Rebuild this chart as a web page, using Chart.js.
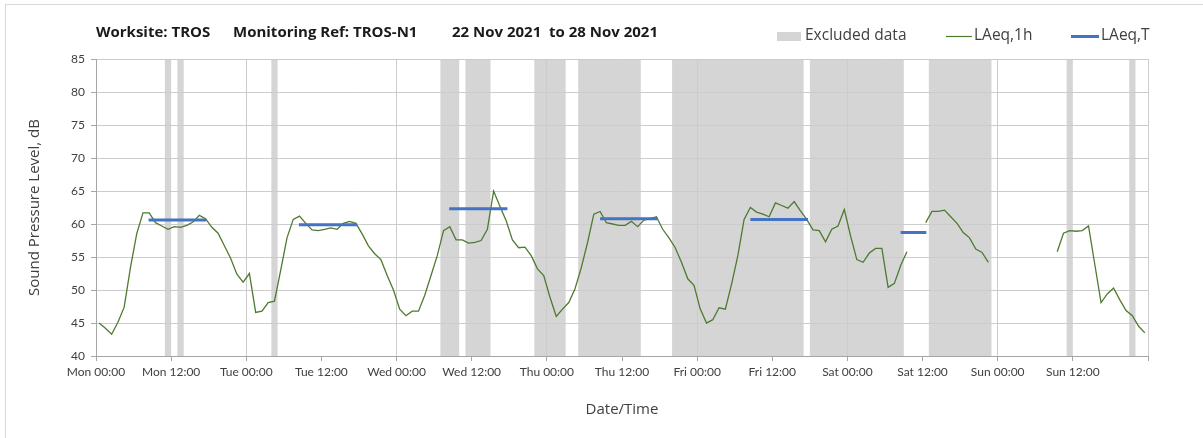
<!DOCTYPE html>
<html>
<head>
<meta charset="utf-8">
<style>
  html, body { margin: 0; padding: 0; background: #fff; }
</style>
</head>
<body>
<canvas id="noiseChart" width="1203" height="438"></canvas>
<script src="https://cdn.jsdelivr.net/npm/chart.js"></script>
<script>
    // LAeq,1h hourly levels in dB, one value per hour starting 00:00
    const mon = [45.0, 44.2, 43.3, 45.1, 47.4, 53.4, 58.5, 61.7, 61.7, 60.2, 59.7, 59.2,
                 59.6, 59.5, 59.8, 60.3, 61.3, 60.8, 59.5, 58.6, 56.7, 54.8, 52.4, 51.2];
    const tue = [52.5, 46.6, 46.8, 48.1, 48.3, 53.0, 57.9, 60.7, 61.2, 60.1, 59.1, 59.0,
                 59.2, 59.4, 59.2, 60.1, 60.4, 60.1, 58.5, 56.7, 55.5, 54.6, 52.2, 50.0];
    const wed = [47.1, 46.1, 46.8, 46.8, 49.2, 52.2, 55.2, 59.0, 59.6, 57.6, 57.6, 57.1,
                 57.2, 57.5, 59.2, 65.0, 62.7, 60.5, 57.6, 56.4, 56.5, 55.2, 53.2, 52.2];
    const thu = [48.9, 46.0, 47.1, 48.1, 50.2, 53.4, 57.2, 61.5, 61.9, 60.2, 60.0, 59.8,
                 59.8, 60.4, 59.6, 60.6, 60.8, 61.1, 59.2, 57.9, 56.4, 54.2, 51.7, 50.7];
    const fri = [47.1, 45.0, 45.5, 47.3, 47.1, 50.9, 55.2, 60.7, 62.5, 61.8, 61.5, 61.1,
                 63.2, 62.8, 62.4, 63.4, 62.0, 60.7, 59.1, 59.0, 57.3, 59.2, 59.7, 62.2];
    const sat = [58.2, 54.6, 54.2, 55.6, 56.3, 56.3, 50.4, 51.0, 53.7, 55.8, null, null,
                 60.2, 61.9, 61.9, 62.1, 61.1, 60.1, 58.7, 57.9, 56.2, 55.7, 54.2, null];
    const sun = [null, null, null, null, null, null, null, null, null, 55.8, 58.6, 59.0,
                 58.9, 59.0, 59.7, 53.9, 48.1, 49.4, 50.3, 48.5, 46.9, 46.1, 44.5, 43.5];

    // LAeq,T daytime periods (hours from Mon 00:00) and levels
    const tStart = [8.4, 32.4, 56.4, 80.5, 104.5, 128.5];
    const tEnd = [17.6, 41.7, 65.7, 89.7, 113.7, 132.6];
    const tLevel = [60.6, 59.9, 62.3, 60.8, 60.7, 58.7];

    // excluded data periods (hours from Mon 00:00)
    const exStart = [11, 13, 28, 55, 59, 70, 77, 92, 114, 133, 155, 165];
    const exEnd = [12, 14, 29, 58, 63, 75, 87, 113, 129, 143, 156, 166];

    const dayNames = ['Mon', 'Tue', 'Wed', 'Thu', 'Fri', 'Sat', 'Sun'];

    const hourly = [].concat(mon, tue, wed, thu, fri, sat, sun);
    const hourlyPoints = hourly.map((v, i) => ({x: i + 0.5, y: v}));

    const periodPoints = [];
    tStart.forEach((s, k) => {
        periodPoints.push({x: s, y: tLevel[k]}, {x: tEnd[k], y: tLevel[k]}, {x: tEnd[k], y: null});
    });

    const bandColor = '#d5d5d5';
    const greenLine = '#4e7a30';
    const blueLine = '#4472c4';
    const tickFont = 'Lato';
    const textFont = '"Open Sans"';

    const excludedBands = {
        id: 'excludedBands',
        beforeDraw(chart) {
            const {ctx, chartArea: a, scales: {x}} = chart;
            ctx.save();
            ctx.fillStyle = bandColor;
            exStart.forEach((s, k) => {
                const x0 = x.getPixelForValue(s);
                const x1 = x.getPixelForValue(exEnd[k]);
                ctx.fillRect(x0, a.top, x1 - x0, a.bottom - a.top);
            });
            ctx.restore();
        }
    };

    const header = {
        id: 'header',
        afterDraw(chart) {
            const ctx = chart.ctx;
            ctx.save();
            // outer frame
            ctx.strokeStyle = '#d9d9d9';
            ctx.lineWidth = 1;
            ctx.strokeRect(5.5, 4.5, 1300, 500);

            // title
            ctx.fillStyle = '#1a1a1a';
            ctx.font = 'bold 15px ' + textFont;
            ctx.textBaseline = 'middle';
            ctx.textAlign = 'left';
            ctx.fillText('Worksite: TROS', 96, 33);
            ctx.fillText('Monitoring Ref: TROS-N1', 233, 33);
            ctx.fillText('22 Nov 2021  to 28 Nov 2021', 452, 33);

            // legend
            ctx.font = '15.5px ' + textFont;
            ctx.fillStyle = '#404040';
            ctx.fillText('Excluded data', 805, 36);
            ctx.fillText('LAeq,1h', 974, 36);
            ctx.fillText('LAeq,T', 1101, 36);
            ctx.fillStyle = bandColor;
            ctx.fillRect(777, 32, 24, 9);
            ctx.strokeStyle = greenLine;
            ctx.lineWidth = 1.2;
            ctx.beginPath(); ctx.moveTo(946, 36.5); ctx.lineTo(972, 36.5); ctx.stroke();
            ctx.strokeStyle = blueLine;
            ctx.lineWidth = 3;
            ctx.beginPath(); ctx.moveTo(1071, 36.5); ctx.lineTo(1099, 36.5); ctx.stroke();
            ctx.restore();
        }
    };

    const ctx = document.getElementById('noiseChart').getContext('2d');
    const noiseChart = new Chart(ctx, {
        type: 'line',
        data: {
            datasets: [{
                label: 'LAeq,T',
                data: periodPoints,
                borderColor: blueLine,
                borderWidth: 3,
                pointRadius: 0,
                spanGaps: false,
                borderCapStyle: 'butt'
            }, {
                label: 'LAeq,1h',
                data: hourlyPoints,
                borderColor: greenLine,
                borderWidth: 1.3,
                pointRadius: 0,
                tension: 0,
                spanGaps: false
            }]
        },
        options: {
            responsive: false,
            animation: false,
            layout: { padding: { left: 22, right: 55, top: 59, bottom: 15 } },
            plugins: {
                legend: { display: false },
                tooltip: { enabled: false }
            },
            scales: {
                x: {
                    type: 'linear',
                    min: 0,
                    max: 168,
                    afterFit(scale) { scale.height = 67; },
                    ticks: {
                        stepSize: 12,
                        autoSkip: false,
                        maxRotation: 0,
                        padding: 4,
                        color: '#404040',
                        font: { family: tickFont, size: 12 },
                        callback: v => v >= 168 ? '' : dayNames[Math.floor(v / 24)] + (v % 24 === 0 ? ' 00:00' : ' 12:00')
                    },
                    grid: {
                        color: c => (c.tick && c.tick.value % 24 === 0) ? '#cccccc' : 'rgba(0,0,0,0)',
                        tickColor: '#a6a6a6',
                        tickLength: 5
                    },
                    border: { color: '#a6a6a6' },
                    title: {
                        display: true,
                        text: 'Date/Time',
                        color: '#404040',
                        font: { family: textFont, size: 15 }
                    }
                },
                y: {
                    min: 40,
                    max: 85,
                    afterFit(scale) { scale.width = 74; },
                    ticks: {
                        stepSize: 5,
                        padding: 6,
                        color: '#404040',
                        font: { family: tickFont, size: 12 }
                    },
                    grid: {
                        color: '#cccccc',
                        tickColor: '#a6a6a6',
                        tickLength: 5
                    },
                    border: { color: '#a6a6a6' },
                    title: {
                        display: true,
                        text: 'Sound Pressure Level, dB',
                        color: '#404040',
                        font: { family: textFont, size: 15 }
                    }
                }
            }
        },
        plugins: [excludedBands, header]
    });
</script>
</body>
</html>
